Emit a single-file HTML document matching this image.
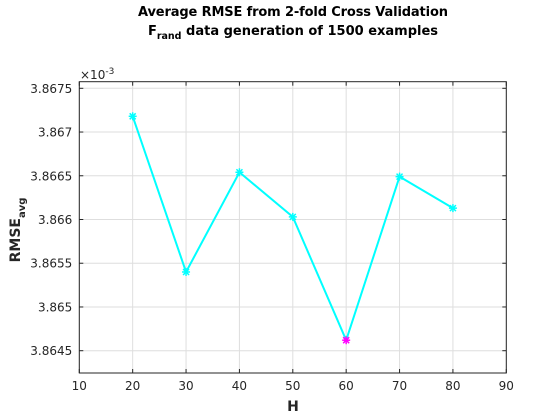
<!DOCTYPE html>
<html><head><meta charset="utf-8"><style>
body{margin:0;background:#fff;}
svg{display:block;font-family:"DejaVu Sans",sans-serif;}
</style></head><body>
<svg id="c" width="560" height="420">
<text x="293" y="16" text-anchor="middle" font-size="13" font-weight="bold" fill="#000" textLength="310">Average RMSE from 2-fold Cross Validation</text>
<text x="293" y="35" text-anchor="middle" font-size="13" font-weight="bold" fill="#000">F<tspan font-size="9.5" dy="4">rand</tspan><tspan dy="-4"> data generation of 1500 examples</tspan></text>
<g id="grid"></g><g id="axes"></g><g id="series"></g>
<text x="80" y="79" font-size="12" fill="#262626">×10<tspan font-size="9" dy="-5">-3</tspan></text>
<text x="293" y="411" text-anchor="middle" font-size="14" font-weight="bold" fill="#262626">H</text>
<text transform="translate(20,230) rotate(-90)" text-anchor="middle" font-size="14" font-weight="bold" fill="#262626">RMSE<tspan font-size="10" dy="5">avg</tspan></text>
</svg>
<script>
const hValues=[20,30,40,50,60,70,80];
const rmseValues=[3.86718,3.86540,3.86654,3.86603,3.86462,3.86649,3.86613];
const xTicks=[10,20,30,40,50,60,70,80,90];
const yTicks=[3.8645,3.865,3.8655,3.866,3.8665,3.867,3.8675];
const yTickLabels=["3.8645","3.865","3.8655","3.866","3.8665","3.867","3.8675"];
const L=79.3,R=506.3,T=81.7,B=373;
function xs(v){return L+(v-10)/80*(R-L);}
function ys(v){return 350.7-(v-3.8645)/0.003*(350.7-88.3);}
const NS="http://www.w3.org/2000/svg";
function mk(tag,attrs,parent){const e=document.createElementNS(NS,tag);for(const k in attrs)e.setAttribute(k,attrs[k]);parent.appendChild(e);return e;}
const g=document.getElementById('grid'),a=document.getElementById('axes'),s=document.getElementById('series');
xTicks.forEach(v=>{const x=xs(v);
 let l=mk('line',{x1:x,x2:x,y1:T,y2:B,stroke:'#dedede','stroke-width':1},g);
 
 mk('line',{x1:x,x2:x,y1:B,y2:B-4,stroke:'#262626'},a);
 mk('line',{x1:x,x2:x,y1:T,y2:T+4,stroke:'#262626'},a);
 let t=mk('text',{x:x,y:B+17,'text-anchor':'middle','font-size':12,fill:'#262626'},a);t.textContent=v;
 });
yTicks.forEach((v,i)=>{const y=ys(v);
 let l=mk('line',{x1:L,x2:R,y1:y,y2:y,stroke:'#dedede','stroke-width':1},g);
 
 mk('line',{x1:L,x2:L+4,y1:y,y2:y,stroke:'#262626'},a);
 mk('line',{x1:R,x2:R-4,y1:y,y2:y,stroke:'#262626'},a);
 let t=mk('text',{x:L-7,y:y+4.5,'text-anchor':'end','font-size':12,fill:'#262626'},a);t.textContent=yTickLabels[i];
 });
let box=mk('rect',{x:L,y:T,width:R-L,height:B-T,fill:'none',stroke:'#262626','stroke-width':1},a);

let pl=mk('polyline',{points:hValues.map((h,i)=>xs(h)+','+ys(rmseValues[i])).join(' '),fill:'none',stroke:'#00ffff','stroke-width':2},s);

const minV=Math.min(...rmseValues);
hValues.forEach((h,i)=>{const x=xs(h),y=ys(rmseValues[i]),c=rmseValues[i]===minV?'#ff00ff':'#00ffff';
 const m=mk('g',{stroke:c,'stroke-width':1.5},s);
 
 [[-4,0,4,0],[0,-4,0,4],[-3,-3,3,3],[-3,3,3,-3]].forEach(d=>mk('line',{x1:x+d[0],y1:y+d[1],x2:x+d[2],y2:y+d[3]},m));});
</script>
</body></html>
